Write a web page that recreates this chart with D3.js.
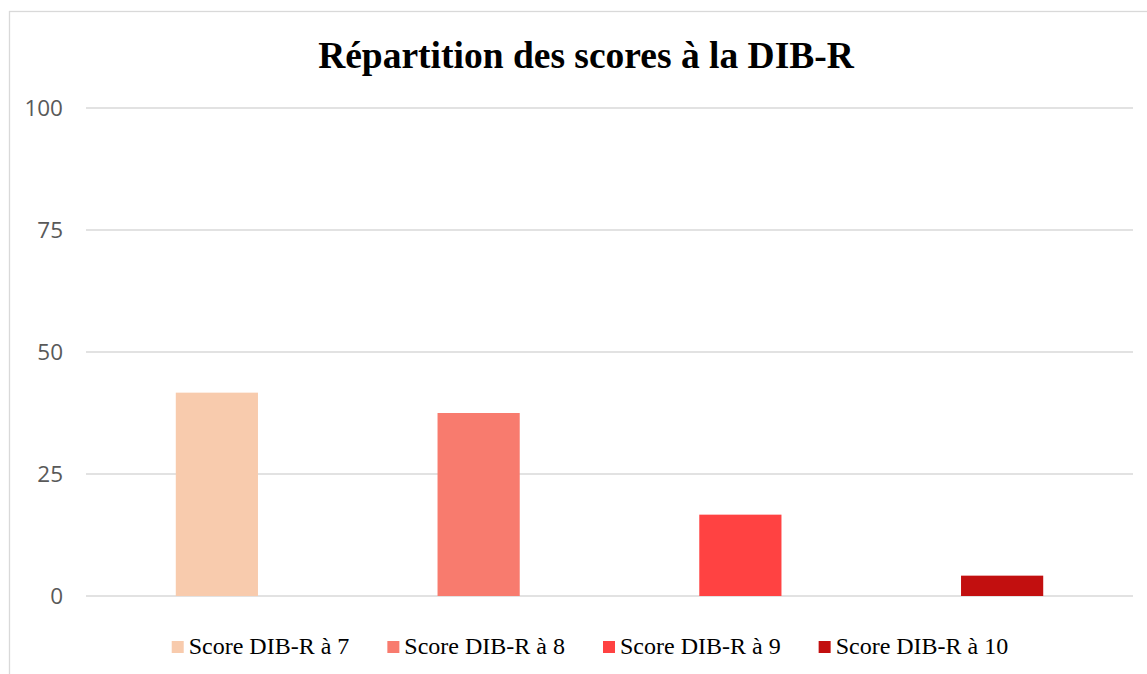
<!DOCTYPE html>
<html>
<head>
<meta charset="utf-8">
<script src="https://d3js.org/d3.v7.min.js"></script>
<style>
  body { margin: 0; background: #fff; }
</style>
</head>
<body>
<svg width="1147" height="674"></svg>
<script>
  // data
  var series = ["Score DIB-R à 7", "Score DIB-R à 8", "Score DIB-R à 9", "Score DIB-R à 10"];
  var values = [41.67, 37.5, 16.67, 4.17];
  var colors = ["#F8CBAD", "#F87B6E", "#FF4242", "#C20F0F"];
  var yTicks = [0, 25, 50, 75, 100];
  var title = "Répartition des scores à la DIB-R";

  var svg = d3.select("svg");

  // outer chart border (right and bottom run off the picture)
  svg.append("rect")
    .attr("x", 9.5).attr("y", 11.5)
    .attr("width", 1200).attr("height", 700)
    .attr("fill", "none")
    .attr("stroke", "#d9d9d9")
    .attr("stroke-width", 1.3);

  var x = d3.scaleBand().domain(series).range([86, 1133]);
  var y = d3.scaleLinear().domain([0, 100]).range([596, 108]);

  // gridlines
  svg.append("g")
    .selectAll("line")
    .data(yTicks)
    .enter()
    .append("line")
    .attr("x1", 86).attr("x2", 1133)
    .attr("y1", function (d) { return y(d); })
    .attr("y2", function (d) { return y(d); })
    .attr("stroke", "#d9d9d9")
    .attr("stroke-width", 1.5);

  // y axis labels
  var yAxis = svg.append("g")
    .attr("transform", "translate(86,0)")
    .call(d3.axisLeft(y).tickValues(yTicks).tickSize(0).tickPadding(23));
  yAxis.select(".domain").remove();
  yAxis.selectAll("text")
    .attr("fill", "#595959")
    .style("font", "22.5px 'Open Sans', sans-serif");

  // bars
  var barW = x.bandwidth() * 0.314;
  svg.append("g")
    .selectAll("rect")
    .data(series)
    .enter()
    .append("rect")
    .attr("x", function (d) { return x(d) + x.bandwidth() / 2 - barW / 2; })
    .attr("y", function (d, i) { return y(values[i]); })
    .attr("width", barW)
    .attr("height", function (d, i) { return y(0) - y(values[i]); })
    .attr("fill", function (d, i) { return colors[i]; });

  // title
  svg.append("text")
    .attr("x", 586)
    .attr("y", 68)
    .attr("text-anchor", "middle")
    .style("font", "bold 37.5px 'Liberation Serif', 'Times New Roman', serif")
    .attr("fill", "#000")
    .text(title);

  // legend
  var legend = svg.append("g");
  var items = legend.selectAll("g")
    .data(series)
    .enter()
    .append("g");
  items.append("rect")
    .attr("width", 12).attr("height", 12)
    .attr("y", -13)
    .attr("fill", function (d, i) { return colors[i]; });
  items.append("text")
    .attr("x", 17)
    .style("font", "24px 'Liberation Serif', 'Times New Roman', serif")
    .attr("fill", "#000")
    .text(function (d) { return d; });

  var pos = 0, offsets = [];
  items.each(function () {
    offsets.push(pos);
    pos += 17 + d3.select(this).select("text").node().getComputedTextLength() + 38;
  });
  var total = pos - 38;
  items.attr("transform", function (d, i) { return "translate(" + offsets[i] + ",0)"; });
  legend.attr("transform", "translate(" + (590 - total / 2) + ",654)");
</script>
</body>
</html>
